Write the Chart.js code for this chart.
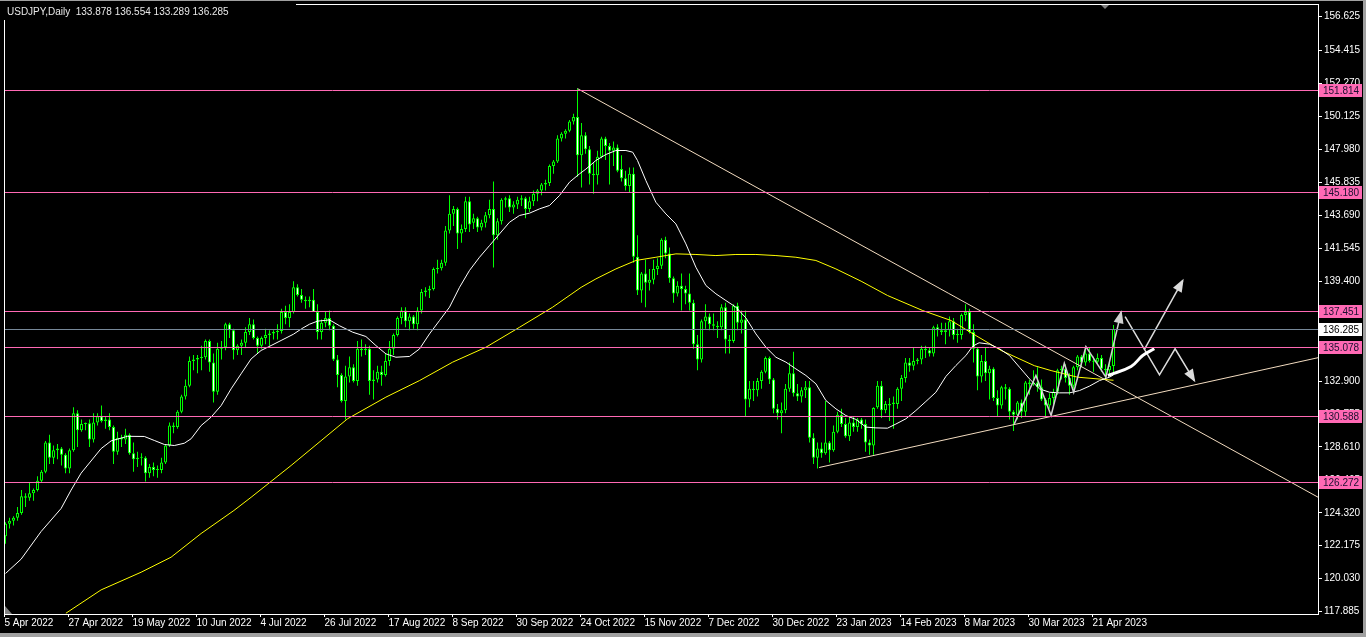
<!DOCTYPE html>
<html lang="en">
<head>
<meta charset="UTF-8">
<title>USDJPY,Daily</title>
<script src="https://cdn.jsdelivr.net/npm/chart.js"></script>
<style>
  html, body { margin: 0; padding: 0; background: #000; overflow: hidden; }
  #wrap { width: 1366px; height: 637px; }
</style>
</head>
<body>
<div id="wrap"><canvas id="chart" width="1366" height="637"></canvas></div>
<script>
// ---- daily candles, bar 0 = 5 Apr 2022 ... bar 277 = 28 Apr 2023 ----
const opens = [
  122.8,123.6,123.8,124.0,124.3,125.4,125.3,125.6,125.8,126.4,
  127.0,128.9,127.9,128.4,128.5,128.1,127.2,128.4,130.8,129.7,
  130.1,130.15,129.1,130.2,130.6,130.3,130.4,129.9,128.3,129.2,
  129.1,129.4,128.2,127.8,127.9,127.9,126.9,127.3,127.1,127.1,
  127.6,128.7,130.0,129.9,130.9,131.9,132.6,134.2,134.3,134.4,
  134.45,135.5,134.1,132.2,135.0,135.1,136.6,136.2,134.9,135.2,
  135.4,136.1,136.6,135.7,135.2,135.7,135.9,136.0,136.1,136.15,
  137.4,137.0,137.4,139.0,138.5,138.2,138.1,138.2,137.4,136.1,
  136.7,137.0,136.5,134.3,133.3,131.6,133.2,133.8,132.9,135.0,
  134.9,135.0,132.9,133.0,133.5,133.3,134.2,135.0,135.9,137.0,
  137.5,136.8,137.1,136.6,137.5,138.7,138.8,138.9,140.2,140.25,
  140.6,142.7,143.8,144.1,142.5,142.8,144.6,143.2,143.5,142.9,
  143.2,143.7,144.1,142.4,143.3,144.7,144.8,144.2,144.4,144.7,
  144.8,144.1,144.6,145.1,145.3,145.7,145.8,146.9,147.2,148.7,
  149.0,149.2,149.8,150.1,147.6,148.9,148.0,146.4,146.3,147.5,
  148.7,148.2,147.9,148.1,146.7,146.1,145.6,146.4,141.0,138.8,
  139.9,139.3,139.5,140.2,140.4,142.1,141.2,139.6,138.6,139.1,
  138.9,138.6,138.0,135.3,134.3,136.8,137.1,136.6,136.5,136.4,
  137.7,135.6,135.5,137.8,136.7,136.9,131.7,132.4,132.3,132.9,
  133.5,134.4,133.0,131.1,130.8,131.0,132.4,133.4,132.1,131.9,
  132.3,132.5,129.2,127.9,128.5,128.2,128.9,128.4,129.6,130.7,
  130.1,129.3,130.2,129.9,130.4,130.1,128.9,128.7,131.2,132.6,
  131.0,131.4,131.5,131.4,132.4,133.1,134.1,133.9,134.2,134.3,
  135.0,134.9,134.7,136.4,136.2,136.1,136.2,136.8,135.9,135.9,
  137.2,137.4,136.1,135.0,133.2,134.2,133.4,133.7,131.8,131.3,
  132.5,132.4,130.9,130.7,131.5,130.9,132.8,132.7,132.8,132.5,
  131.7,131.3,131.8,132.2,133.6,133.7,133.1,132.6,133.8,134.5,
  134.1,134.7,134.2,134.15,134.4,133.7,133.6,133.878
];
const highs = [
  123.7,124.0,124.1,124.7,125.8,125.6,126.3,125.9,126.7,127.1,
  129.0,129.4,128.7,128.8,128.6,128.2,128.5,131.2,131.0,130.4,
  130.2,130.4,130.8,130.8,131.3,130.6,130.8,130.0,129.6,129.4,
  129.8,129.5,128.9,128.3,128.2,128.0,127.5,127.6,127.4,127.9,
  128.8,130.2,130.2,131.0,132.0,133.0,134.5,134.6,134.6,135.2,
  135.6,135.6,134.7,135.4,135.5,136.7,136.7,136.3,135.3,135.6,
  136.4,137.0,136.9,135.8,135.8,136.3,136.2,136.2,136.6,137.6,
  137.8,137.9,139.4,139.2,138.9,138.4,138.4,138.9,137.9,136.9,
  137.4,137.5,136.6,134.6,133.4,133.9,134.5,134.0,135.5,135.6,
  135.3,135.2,133.6,133.9,133.9,134.7,135.5,136.0,137.1,137.7,
  137.7,137.3,137.2,137.7,138.9,139.0,139.1,140.3,140.8,140.8,
  143.0,145.0,144.3,144.2,143.1,144.9,144.9,143.8,143.6,143.4,
  143.9,144.7,145.9,143.5,144.8,144.9,145.0,144.6,144.9,145.0,
  144.9,144.9,145.3,145.4,145.8,146.0,147.0,147.3,148.9,149.1,
  149.3,149.9,150.3,151.94,149.7,149.1,148.2,147.1,147.9,148.8,
  148.8,148.4,148.5,148.3,147.6,146.6,146.8,146.8,142.4,140.0,
  140.8,140.2,140.8,140.9,142.2,142.3,141.6,139.7,139.4,139.9,
  139.1,139.9,138.2,135.9,136.9,137.9,137.3,137.3,136.8,137.9,
  138.0,135.9,137.9,138.0,137.5,137.5,132.9,132.9,133.1,133.6,
  134.5,134.5,133.1,131.4,131.5,132.7,134.1,134.8,132.7,132.5,
  132.9,132.9,129.5,128.9,128.9,131.6,129.0,130.0,130.9,131.1,
  130.5,130.6,130.6,130.5,130.5,130.4,129.1,131.2,132.9,132.9,
  131.6,131.8,131.9,132.5,133.3,134.4,134.4,135.1,134.4,135.2,
  135.2,135.1,136.5,136.6,136.7,136.7,137.1,137.0,136.3,137.3,
  137.9,137.6,136.6,135.1,134.6,135.1,133.9,133.8,132.3,132.6,
  132.7,132.5,131.0,131.6,131.7,132.9,133.0,133.6,133.8,133.0,
  131.8,132.1,132.4,133.7,133.9,134.0,133.4,133.9,134.6,134.6,
  135.0,135.1,134.5,134.7,134.6,134.0,134.1,136.554
];
const lows = [
  122.3,123.3,123.5,123.8,124.2,124.7,125.1,125.1,125.7,126.3,
  126.9,127.5,127.5,127.8,127.4,126.9,126.9,128.3,128.6,129.6,
  129.7,128.6,128.9,130.0,130.2,129.8,129.7,127.5,128.1,128.6,
  128.8,128.1,127.0,127.3,127.4,126.35,126.6,126.7,126.6,126.9,
  127.5,128.6,129.5,129.8,130.8,131.7,132.5,133.6,133.4,133.6,
  134.3,133.5,131.5,132.0,134.3,134.9,135.7,134.3,134.6,134.6,
  135.1,135.9,135.6,134.7,135.0,135.3,135.2,135.6,135.6,136.0,
  136.6,136.4,137.3,138.4,138.0,137.6,137.7,137.4,135.6,135.6,
  136.4,136.2,134.2,132.5,131.5,130.4,132.8,132.8,132.6,134.5,
  134.6,132.0,131.7,132.8,132.6,133.2,133.9,134.6,135.8,136.6,
  136.4,136.2,136.3,136.2,137.3,138.4,138.3,138.8,139.9,140.1,
  140.4,142.5,143.0,141.5,141.9,142.6,142.6,142.8,142.6,142.7,
  142.9,143.5,140.3,142.1,143.1,144.2,143.9,143.8,144.1,144.3,
  143.5,143.9,144.3,144.6,145.0,145.3,145.6,146.4,147.1,148.5,
  148.7,149.1,149.6,146.2,145.5,147.7,145.7,145.1,145.7,147.4,
  147.3,145.7,146.9,146.5,145.9,145.3,145.2,140.6,138.5,138.0,
  137.7,138.8,139.2,139.8,140.2,140.9,139.3,138.0,138.4,137.5,
  137.9,137.5,135.0,133.6,134.1,136.3,136.2,136.2,135.7,136.2,
  134.7,134.7,135.4,136.2,136.0,130.58,131.2,131.6,131.9,132.4,
  133.4,132.7,130.8,130.4,129.5,130.8,132.2,131.9,131.6,131.5,
  131.8,128.9,127.5,127.2,127.9,128.1,127.6,128.3,129.5,129.9,
  129.2,129.0,129.6,129.6,129.8,128.3,128.1,128.1,131.1,130.5,
  130.8,130.3,129.8,131.1,131.6,132.8,133.5,133.6,134.0,134.0,
  134.4,134.5,134.5,135.8,135.9,135.3,135.8,135.6,135.4,135.6,
  136.8,136.0,134.1,132.3,132.8,132.9,131.7,131.6,130.6,131.1,
  131.7,130.4,129.65,130.4,130.5,130.6,132.0,132.6,132.2,131.6,
  130.6,131.1,131.4,132.0,133.0,132.8,132.0,132.4,133.6,133.8,
  133.9,134.1,133.5,134.0,133.5,133.0,133.3,133.289
];
const closes = [
  123.6,123.8,124.0,124.3,125.4,125.3,125.6,125.8,126.4,127.0,
  128.9,127.9,128.4,128.5,128.1,127.2,128.4,130.8,129.7,130.1,
  130.15,129.1,130.2,130.6,130.3,130.4,129.9,128.3,129.2,129.1,
  129.4,128.2,127.8,127.9,127.95,126.9,127.3,127.1,127.15,127.6,
  128.7,130.0,129.9,130.9,131.9,132.6,134.2,134.3,134.4,134.45,
  135.5,134.1,132.2,135.0,135.1,136.6,136.2,134.9,135.2,135.4,
  136.1,136.6,135.7,135.2,135.7,135.9,136.0,136.1,136.15,137.4,
  137.0,137.4,139.0,138.5,138.2,138.1,138.2,137.4,136.1,136.7,
  137.0,136.5,134.3,133.3,131.6,133.2,133.8,132.9,135.0,134.9,
  135.0,132.9,133.0,133.5,133.3,134.2,135.0,135.9,137.0,137.5,
  136.8,137.1,136.6,137.5,138.7,138.8,138.9,140.2,140.25,140.6,
  142.7,143.8,144.1,142.5,142.8,144.6,143.1,143.5,142.9,143.2,
  143.7,144.1,142.4,143.3,144.7,144.8,144.2,144.4,144.7,144.8,
  144.1,144.6,145.1,145.3,145.7,145.8,146.9,147.2,148.7,149.0,
  149.2,149.8,150.1,147.6,148.9,148.0,146.4,146.3,147.5,148.7,
  148.2,147.9,148.1,146.6,146.1,145.6,146.4,141.0,138.8,139.9,
  139.3,139.5,140.2,140.4,142.1,141.2,139.6,138.6,139.1,138.9,
  138.6,138.0,135.3,134.3,136.8,137.1,136.6,136.5,136.4,137.7,
  135.6,135.5,137.8,136.7,136.9,131.7,132.4,132.3,132.9,133.5,
  134.4,133.0,131.1,130.8,131.0,132.4,133.4,132.1,131.9,132.3,
  132.5,129.2,127.9,128.5,128.2,128.9,128.4,129.6,130.7,130.1,
  129.3,130.2,129.9,130.4,130.1,128.9,128.7,131.15,132.6,131.0,
  131.4,131.3,131.4,132.4,133.1,134.1,133.9,134.2,134.3,135.0,
  134.9,134.7,136.4,136.2,136.1,136.2,136.8,135.9,135.95,137.2,
  137.4,136.1,135.0,133.2,134.2,133.4,133.7,131.8,131.3,132.5,
  132.4,130.9,130.7,131.5,130.9,132.8,132.7,132.8,132.5,131.7,
  131.3,131.8,132.2,133.6,133.7,133.1,132.6,133.8,134.5,134.1,
  134.7,134.2,134.15,134.4,133.7,133.6,133.878,136.285
];

// ---- moving averages (bar, price) ----
const fastMaBars = [0,3.9,8.9,13.9,16.4,18.9,23.9,26.4,30.5,34.7,37.2,39.7,42.2,44.7,46.4,48.9,51.4,53.9,56.4,58.9,61.4,63.9,66.4,68.9,72,74,76,78,81,83.5,86.8,90.1,92.6,95.1,97.6,101,103.5,106,108.5,111,113.5,116,118.5,121,123.5,126,128.5,131,133.5,136,138.5,141,143.5,145.1,147.6,150.1,152.6,155.1,156.8,158,160.1,162.6,165.1,167.6,170.1,172.6,175.1,177.6,180.1,182.6,185.1,187.6,190.1,192.6,195.1,197.6,200.1,202.6,205.1,207.6,210.1,212.6,215.1,217.6,220.5,222.6,225.1,227.6,230.1,232.6,235.1,237.6,240.1,241.8,243.4,246,248.5,251,253.5,256,258.5,261,263.5,266,268.5,271,273.5,276,277];
const fastMaVals = [120.37,121.3,123.1,124.6,125.8,126.9,128.5,129.0,129.3,129.29,129.03,128.77,128.7,128.85,129.14,130.0,130.55,131.3,132.39,133.37,134.34,134.89,135.21,135.54,135.95,136.3,136.6,136.8,136.88,136.5,136.08,135.8,135.21,134.67,134.45,134.5,134.99,135.97,136.84,137.71,139.0,140.1,140.96,141.72,142.48,143.24,143.68,143.83,144.11,144.33,144.98,145.85,146.39,146.7,147.26,147.65,147.91,147.91,147.8,147.26,145.95,144.54,143.78,143.13,141.83,140.31,139.12,138.58,138.14,137.71,137.01,135.97,135.1,134.45,134.13,133.69,133.26,132.72,131.63,131.09,130.65,130.4,129.9,129.85,129.83,130.1,130.44,130.98,131.57,132.17,133.2,133.91,134.56,135.17,135.39,135.3,135.0,134.56,133.8,133.04,132.39,132.17,132.13,132.13,132.28,132.57,132.93,133.15,133.3];
const slowMaBars = [15.1,23.9,33.9,41.4,48.9,57.1,61.4,71.4,85.5,95.1,103.5,111.8,120.1,128.5,136.8,143.9,147.6,152.6,157.6,162.6,167.6,172.6,177.6,182.6,187.6,192.6,197.6,202.6,207.6,213.9,220.5,229.3,236.4,242.6,248.9,257.2,261.4,268,277];
const slowMaVals = [117.78,119.3,120.45,121.43,122.97,124.47,125.33,127.4,130.44,131.85,132.93,134.13,135.1,136.4,137.71,139.0,139.55,140.2,140.75,140.96,141.18,141.14,141.07,141.14,141.14,141.07,140.96,140.75,140.2,139.4,138.47,137.49,136.84,135.86,134.89,133.9,133.58,133.15,132.95];

// ---- drawn trend lines (two anchors each) ----
const resistanceBars = [143, 340];
const resistanceVals = [151.94, 123.63];
const supportBars = [203.4, 340];
const supportVals = [127.27, 135.1];

// ---- scenario arrows ----
const zigzagBars = [252.2, 257.6, 261.4, 264.7, 267.05, 270.1, 275.1, 278.9];
const zigzagVals = [130.11, 133.26, 130.66, 134.06, 132.17, 135.15, 133.15, 137.38];
const dropBars = [279.9, 288.5, 292.4, 297.2];
const dropVals = [137.1, 133.3, 135.0, 132.93];
const riseBars = [284.7, 294.3];
const riseVals = [134.95, 139.44];
const pathBars = [275.6, 281.4, 284.3, 287.2];
const pathVals = [133.26, 133.85, 134.56, 135.0];

// ---- horizontal levels and axis ticks ----
const levelPrices = [151.814, 145.180, 137.451, 135.078, 130.588, 126.272];
const bidPrice = 136.285;
const yTicks = [156.625,154.415,152.270,150.125,147.980,145.835,143.690,141.545,139.400,137.255,135.110,132.900,130.755,128.610,126.465,124.320,122.175,120.030,117.885];
const xTickBars = [0,16,32,48,64,80,96,112,128,144,160,176,192,208,224,240,256,272];
const xTickLabels = ['5 Apr 2022','27 Apr 2022','19 May 2022','10 Jun 2022','4 Jul 2022','26 Jul 2022','17 Aug 2022','8 Sep 2022','30 Sep 2022','24 Oct 2022','15 Nov 2022','7 Dec 2022','30 Dec 2022','23 Jan 2023','14 Feb 2023','8 Mar 2023','30 Mar 2023','21 Apr 2023'];
const titleText = 'USDJPY,Daily  133.878 136.554 133.289 136.285';

const FONT = '"Liberation Sans", Arial, sans-serif';
const pts = (bx, vy) => bx.map((b, i) => ({ x: b, y: vy[i] }));

function lineSet(label, data, color, width, extra) {
    return Object.assign({
        type: 'line', label, data,
        borderColor: color, backgroundColor: color,
        borderWidth: width, pointRadius: 0, tension: 0, fill: false, order: 1
    }, extra || {});
}

// MT4 look: black background, levels, frame, price boxes, arrow heads
const mt4Look = {
    id: 'mt4Look',
    beforeDraw(chart) {
        const c = chart.ctx;
        c.save();
        c.fillStyle = '#000';
        c.fillRect(0, 0, chart.width, chart.height);
        c.fillStyle = '#a0a0a0';
        c.fillRect(chart.width - 3, 0, 3, chart.height);
        c.fillRect(0, chart.height - 4, chart.width, 4);
        c.restore();
    },
    afterDatasetsDraw(chart) {
        const c = chart.ctx, a = chart.chartArea, ys = chart.scales.y;
        c.save();
        c.beginPath();
        c.rect(a.left, a.top, a.right - a.left, a.bottom - a.top);
        c.clip();
        c.lineWidth = 1;
        const hline = (v, col) => {
            const py = Math.floor(ys.getPixelForValue(v)) + 0.5;
            c.strokeStyle = col;
            c.beginPath();
            c.moveTo(a.left, py);
            c.lineTo(a.right, py);
            c.stroke();
        };
        hline(bidPrice, '#778899');
        levelPrices.forEach(v => hline(v, '#ff69b4'));

        // arrow heads
        chart.data.datasets.forEach((ds, i) => {
            if (!ds.arrowHead) return;
            const el = chart.getDatasetMeta(i).data;
            const p = el[el.length - 1], q = el[el.length - 2];
            const ang = Math.atan2(p.y - q.y, p.x - q.x);
            const cs = Math.cos(ang), sn = Math.sin(ang);
            c.fillStyle = ds.borderColor;
            c.beginPath();
            c.moveTo(p.x + 2 * cs, p.y + 2 * sn);
            c.lineTo(p.x - 11 * cs + 5 * sn, p.y - 11 * sn - 5 * cs);
            c.lineTo(p.x - 11 * cs - 5 * sn, p.y - 11 * sn + 5 * cs);
            c.closePath();
            c.fill();
        });
        c.restore();
    },
    afterDraw(chart) {
        const c = chart.ctx, a = chart.chartArea, ys = chart.scales.y;
        c.save();
        c.strokeStyle = '#ffffff';
        c.lineWidth = 1;
        c.strokeRect(a.left + 0.5, a.top + 0.5, a.right - a.left, a.bottom - a.top);

        // shift markers
        c.fillStyle = '#808080';
        const sx = a.right - 213;
        c.beginPath();
        c.moveTo(sx - 4, a.top + 1); c.lineTo(sx + 4, a.top + 1); c.lineTo(sx, a.top + 5);
        c.closePath(); c.fill();
        c.beginPath();
        c.moveTo(a.left + 1, a.bottom); c.lineTo(a.left + 1, a.bottom - 8); c.lineTo(a.left + 8, a.bottom);
        c.closePath(); c.fill();

        // symbol caption
        c.fillStyle = '#000';
        c.fillRect(0, 1, 296, 19);
        c.fillStyle = '#a0a0a0';
        c.fillRect(0, 0, chart.width, 1);
        c.font = '10px ' + FONT;
        c.textBaseline = 'middle';
        c.textAlign = 'left';
        c.fillStyle = '#e8e8e8';
        c.fillText(titleText, 7, 12);

        // price boxes on the right scale
        const box = (v, fill, ink) => {
            const py = Math.floor(ys.getPixelForValue(v)) + 0.5;
            c.fillStyle = fill;
            c.fillRect(a.right + 1, Math.round(py - 6.5), 43, 13);
            c.fillStyle = ink;
            c.fillText(v.toFixed(3), a.right + 5, py + 0.5);
        };
        levelPrices.forEach(v => box(v, '#ff69b4', '#1a1030'));
        box(bidPrice, '#ffffff', '#000000');
        c.restore();
    }
};

Chart.defaults.font.family = FONT;
Chart.defaults.font.size = 10;

new Chart(document.getElementById('chart'), {
    type: 'bar',
    data: {
        datasets: [
            lineSet('Path', pts(pathBars, pathVals), '#ffffff', 3, { tension: 0.4, order: 0 }),
            lineSet('Zigzag', pts(zigzagBars, zigzagVals), '#d0d0d0', 1.5, { arrowHead: true, order: 0 }),
            lineSet('Drop', pts(dropBars, dropVals), '#dcdcdc', 1.5, { arrowHead: true, order: 0 }),
            lineSet('Rise', pts(riseBars, riseVals), '#dcdcdc', 1.5, { arrowHead: true, order: 0 }),
            lineSet('MA fast', pts(fastMaBars, fastMaVals), '#ffffff', 1),
            lineSet('MA slow', pts(slowMaBars, slowMaVals), '#ffff00', 1),
            lineSet('Resistance', pts(resistanceBars, resistanceVals), '#f3dcc0', 1),
            lineSet('Support', pts(supportBars, supportVals), '#f3dcc0', 1),
            {
                type: 'bar', label: 'Body',
                data: opens.map((o, i) => ({ x: i, y: [o, closes[i]] })),
                backgroundColor: opens.map((o, i) => closes[i] >= o ? '#000000' : '#ffffff'),
                borderColor: '#00ff00', borderWidth: 1, borderSkipped: false,
                barThickness: 3, minBarLength: 1, inflateAmount: 0, grouped: false, order: 2
            },
            {
                type: 'bar', label: 'Wick',
                data: lows.map((l, i) => ({ x: i, y: [l, highs[i]] })),
                backgroundColor: '#00ff00', borderWidth: 0,
                barThickness: 1, inflateAmount: 0, grouped: false, order: 3
            }
        ]
    },
    options: {
        responsive: false,
        animation: false,
        devicePixelRatio: 1,
        events: [],
        layout: { padding: { left: 4, top: 4, right: 0, bottom: 0 } },
        plugins: { legend: { display: false }, tooltip: { enabled: false } },
        scales: {
            x: {
                type: 'linear', min: -0.375, max: 328.125, offset: false,
                afterBuildTicks: s => { s.ticks = xTickBars.map(b => ({ value: b - 0.25 })); },
                afterFit: s => { s.height = 23; s.paddingLeft = 0; s.paddingRight = 0; },
                ticks: {
                    autoSkip: false, maxRotation: 0, minRotation: 0, align: 'start', padding: 0,
                    color: '#ffffff', callback: (v, i) => xTickLabels[i]
                },
                grid: { offset: false, drawOnChartArea: false, drawTicks: true, tickLength: 3, color: '#ffffff' },
                border: { display: false }
            },
            y: {
                type: 'linear', position: 'right', min: 117.73, max: 157.45,
                afterBuildTicks: s => { s.ticks = yTicks.map(v => ({ value: v })); },
                afterFit: s => { s.width = 48; s.paddingTop = 0; s.paddingBottom = 0; },
                ticks: { autoSkip: false, padding: 2, color: '#ffffff', callback: v => v.toFixed(3) },
                grid: { drawOnChartArea: false, drawTicks: true, tickLength: 4, color: '#ffffff' },
                border: { display: false }
            }
        }
    },
    plugins: [mt4Look]
});
</script>
</body>
</html>
